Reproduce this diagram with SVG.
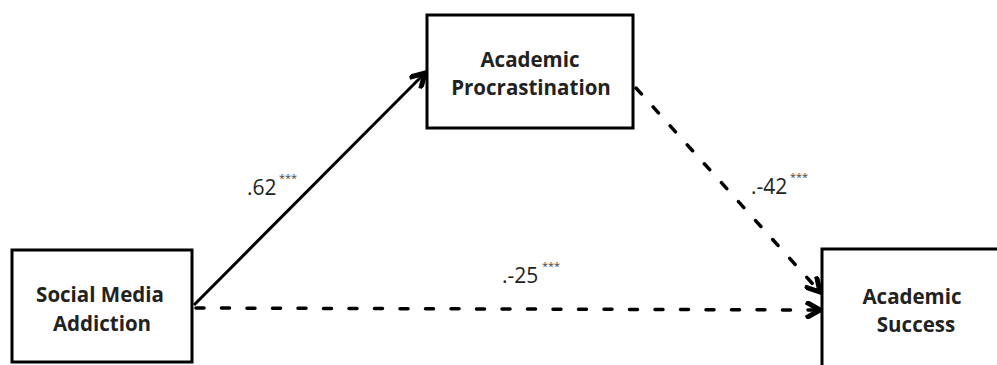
<svg xmlns="http://www.w3.org/2000/svg" width="997" height="365" viewBox="0 0 997 365">
<style>
.box{fill:#fff;stroke:#000;stroke-width:3}
.t{font-family:"Open Sans","Liberation Sans",sans-serif;font-weight:700;font-size:20.5px;fill:#222;text-anchor:middle}
.lbl{font-family:"Open Sans","Liberation Sans",sans-serif;font-size:21px;fill:#222}
.sup{font-family:"Open Sans","Liberation Sans",sans-serif;font-size:11px;fill:#444}
.c{fill:none;stroke:#000;stroke-width:3}
.d{stroke-width:3.5;stroke-linecap:round;stroke-dasharray:8 17.5}
</style>
<defs>
<marker id="ah" markerWidth="18" markerHeight="18" refX="15" refY="9" orient="auto" markerUnits="userSpaceOnUse" viewBox="0 0 18 18">
<path d="M1,1 L15,9 L1,17" fill="none" stroke="#000" stroke-width="5" stroke-linejoin="miter"/>
</marker>
</defs>
<rect width="997" height="365" fill="#fff"/>
<g id="edges">
<path class="c" d="M194,305 L425,73" marker-end="url(#ah)"/>
<path class="c d" d="M636,88 L820,292" marker-end="url(#ah)"/>
<path class="c d" d="M196,308 L820,310" marker-end="url(#ah)"/>
</g>
<g id="social-media-addiction">
<rect class="box" x="12" y="250" width="180" height="112"/>
<text class="t" x="100" y="302">Social Media</text>
<text class="t" x="102" y="331">Addiction</text>
</g>
<g id="academic-procrastination">
<rect class="box" x="427" y="15" width="206" height="113"/>
<text class="t" x="530" y="67">Academic</text>
<text class="t" x="531" y="95">Procrastination</text>
</g>
<g id="academic-success">
<rect class="box" x="822" y="249" width="185" height="125"/>
<text class="t" x="912" y="304">Academic</text>
<text class="t" x="916" y="332">Success</text>
</g>
<g id="labels">
<text class="lbl" x="247" y="195">.62</text>
<text class="sup" x="279" y="182">***</text>
<text class="lbl" x="751" y="194">.-42</text>
<text class="sup" x="790" y="181">***</text>
<text class="lbl" x="502" y="283">.-25</text>
<text class="sup" x="542" y="270">***</text>
</g>
</svg>
